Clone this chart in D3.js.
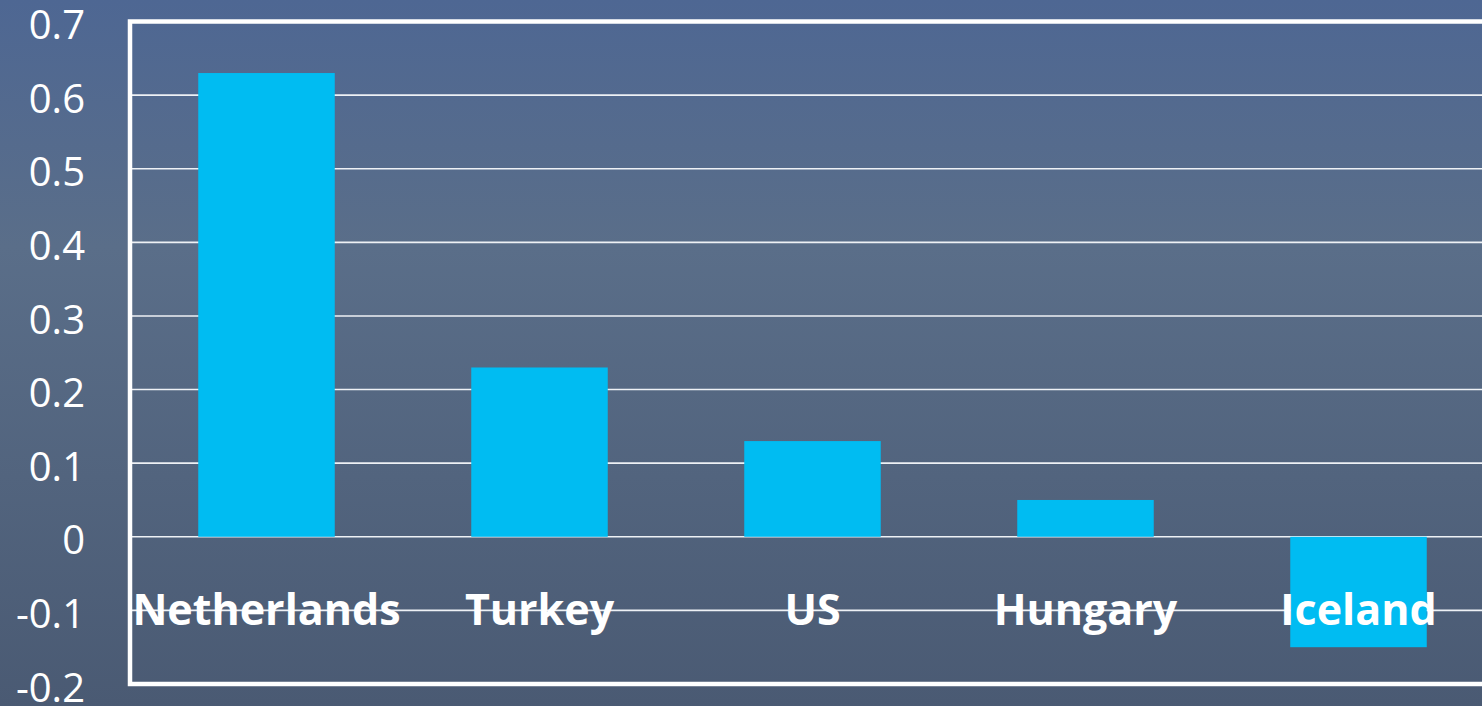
<!DOCTYPE html>
<html>
<head>
<meta charset="utf-8">
<script src="https://cdnjs.cloudflare.com/ajax/libs/d3/7.8.5/d3.min.js"></script>
<style>
  html, body { margin: 0; padding: 0; overflow: hidden; }
  body { width: 1482px; height: 706px; }
  svg { display: block; }
  text { font-family: "Open Sans", "Liberation Sans", sans-serif; fill: #fff; }
</style>
</head>
<body>
<script>
// chart data
var countries = ["Netherlands", "Turkey", "US", "Hungary", "Iceland"];
var values = [0.63, 0.23, 0.13, 0.05, -0.15];
var yTicks = [-0.2, -0.1, 0, 0.1, 0.2, 0.3, 0.4, 0.5, 0.6, 0.7];

var width = 1482, height = 706;
var plotLeft = 130, plotTop = 21.5, plotBottom = 684, plotRight = 1495;

var svg = d3.select("body").append("svg")
    .attr("width", width)
    .attr("height", height);

// background gradient
var defs = svg.append("defs");
var grad = defs.append("linearGradient")
    .attr("id", "bg")
    .attr("x1", 0).attr("y1", 0).attr("x2", 0).attr("y2", 1);
grad.append("stop").attr("offset", "0%").attr("stop-color", "#4e6793");
grad.append("stop").attr("offset", "35%").attr("stop-color", "#5a6e89");
grad.append("stop").attr("offset", "100%").attr("stop-color", "#4a5a73");

svg.append("rect")
    .attr("width", width).attr("height", height)
    .attr("fill", "url(#bg)");

var x = d3.scaleBand()
    .domain(countries)
    .range([plotLeft, plotRight])
    .paddingInner(0.5)
    .paddingOuter(0.25);

var y = d3.scaleLinear()
    .domain([-0.2, 0.7])
    .range([plotBottom, plotTop]);

// gridlines
svg.append("g")
    .selectAll("line")
    .data(yTicks)
    .enter().append("line")
    .attr("x1", plotLeft).attr("x2", width)
    .attr("y1", function (d) { return y(d); })
    .attr("y2", function (d) { return y(d); })
    .attr("stroke", "#eef1f5")
    .attr("stroke-width", 1.6);

// bars
svg.append("g")
    .selectAll("rect")
    .data(values)
    .enter().append("rect")
    .attr("x", function (d, i) { return x(countries[i]); })
    .attr("width", x.bandwidth())
    .attr("y", function (d) { return y(Math.max(0, d)); })
    .attr("height", function (d) { return Math.abs(y(d) - y(0)); })
    .attr("fill", "#00bcf2");

// frame
svg.append("path")
    .attr("d", "M" + width + "," + plotTop + "H" + plotLeft + "V" + plotBottom + "H" + width)
    .attr("stroke", "#fff")
    .attr("stroke-width", 4.5)
    .attr("fill", "none");

// y tick labels
svg.append("g")
    .selectAll("text")
    .data(yTicks)
    .enter().append("text")
    .attr("x", 85)
    .attr("y", function (d) { return y(d); })
    .attr("dy", "0.44em")
    .attr("text-anchor", "end")
    .style("font-size", "40px")
    .text(function (d) { return String(+d.toFixed(1)); });

// category labels
svg.append("g")
    .selectAll("text")
    .data(countries)
    .enter().append("text")
    .attr("x", function (d) { return x(d) + x.bandwidth() / 2; })
    .attr("y", 625)
    .attr("text-anchor", "middle")
    .style("font-size", "43px")
    .style("font-weight", "bold")
    .text(function (d) { return d; });
</script>
</body>
</html>
